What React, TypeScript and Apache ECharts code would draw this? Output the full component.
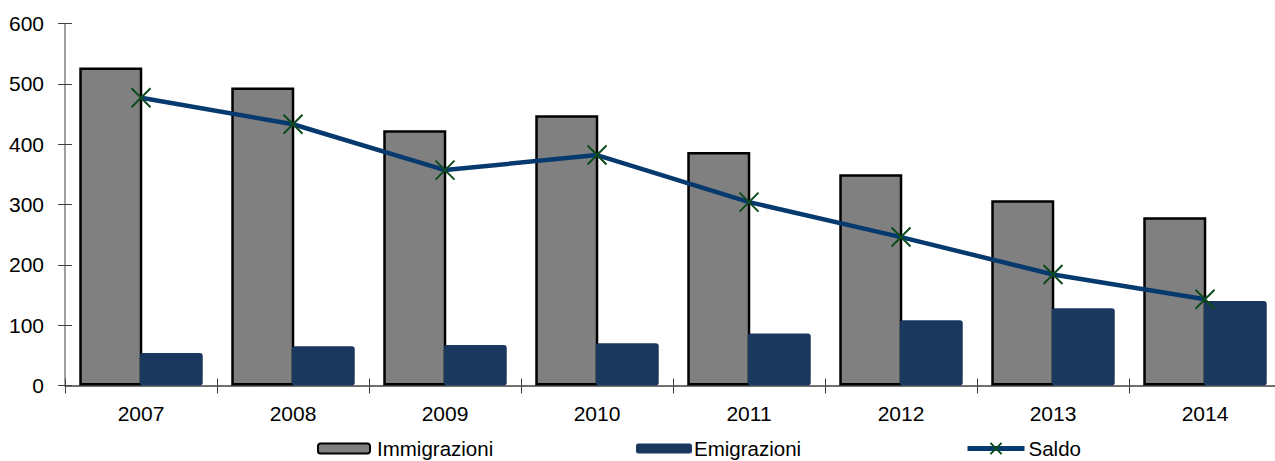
import React, { useEffect, useRef } from "react";
import * as echarts from "echarts";

const categories = ["2007", "2008", "2009", "2010", "2011", "2012", "2013", "2014"];
const immigrazioni = [527, 494, 423, 448, 387, 350, 307, 279];
const emigrazioni = [54, 65, 67, 70, 86, 108, 128, 140];
const saldo = [477, 433, 357, 382, 304, 246, 184, 143];
const yTicks = { min: 0, max: 600, interval: 100 };

const FONT = "'Liberation Sans', Arial, sans-serif";
const XMARK = "path://M0,0L10,10M10,0L0,10";

export default function App() {
  const ref = useRef<HTMLDivElement>(null);
  useEffect(() => {
    if (!ref.current) return;
    const chart = echarts.init(ref.current, undefined, { renderer: "svg" });
    const legendText = { fontFamily: FONT, fontSize: 20.5, color: "#000" };
    chart.setOption({
      animation: false,
      grid: {
        left: 65, top: 23.5, width: 1216, bottom: 75.5, containLabel: false,
        outerBoundsMode: "none",
      },
      legend: [
        {
          data: ["Immigrazioni"], left: 317, top: 438, itemWidth: 52, itemHeight: 10, itemGap: 0,
          textStyle: { ...legendText, padding: [0, 0, 0, 2] }, padding: 0,
        },
        {
          data: ["Emigrazioni"], left: 636, top: 438, itemWidth: 56, itemHeight: 10, itemGap: 0,
          textStyle: { ...legendText, padding: [0, 0, 0, -3] }, padding: 0,
        },
        {
          data: ["Saldo"], left: 965, top: 438, itemWidth: 57, itemHeight: 14, itemGap: 0,
          textStyle: { ...legendText, padding: [0, 0, 0, -1] }, padding: 0,
          lineStyle: { width: 5, color: "#063a6e" },
        },
      ],
      xAxis: [
        {
          type: "category",
          data: categories,
          boundaryGap: true,
          axisLine: { lineStyle: { color: "#404040", width: 1.5 } },
          axisTick: { show: true, length: 8, lineStyle: { color: "#404040" }, alignWithLabel: false },
          axisLabel: { fontFamily: FONT, fontSize: 21, color: "#000", margin: 17 },
        },
        {
          type: "category",
          data: categories,
          position: "bottom",
          boundaryGap: true,
          axisLine: { show: false },
          axisTick: { show: true, inside: true, length: 7, lineStyle: { color: "#404040" } },
          axisLabel: { show: false },
        },
      ],
      yAxis: [
        {
          type: "value",
          min: yTicks.min,
          max: yTicks.max,
          interval: yTicks.interval,
          splitLine: { show: false },
          axisLine: { show: true, lineStyle: { color: "#808080", width: 1.5 } },
          axisTick: { show: true, length: 7, lineStyle: { color: "#404040" } },
          axisLabel: { fontFamily: FONT, fontSize: 21, color: "#000", margin: 21 },
        },
        {
          type: "value",
          min: yTicks.min,
          max: yTicks.max,
          interval: yTicks.interval,
          position: "left",
          splitLine: { show: false },
          axisLine: { show: false },
          axisTick: { show: true, inside: true, length: 7, lineStyle: { color: "#404040" } },
          axisLabel: { show: false },
        },
      ],
      series: [
        {
          name: "Immigrazioni",
          type: "bar",
          data: immigrazioni,
          barWidth: 63,
          barGap: "-4%",
          itemStyle: { color: "#808080", borderColor: "#000", borderWidth: 2.5 },
          z: 2,
        },
        {
          name: "Emigrazioni",
          type: "bar",
          data: emigrazioni,
          barWidth: 63,
          itemStyle: { color: "#1a375e", borderRadius: 3 },
          z: 3,
        },
        {
          name: "Saldo",
          type: "line",
          data: saldo,
          symbol: XMARK,
          symbolSize: 19,
          lineStyle: { color: "#063a6e", width: 4.5 },
          itemStyle: { color: "none", borderColor: "#0d4a1c", borderWidth: 2 },
          z: 5,
        },
      ],
    });
    return () => chart.dispose();
  }, []);
  return (
    <div
      ref={ref}
      style={{ position: "absolute", left: 0, top: 0, width: 1275, height: 461 }}
    />
  );
}
